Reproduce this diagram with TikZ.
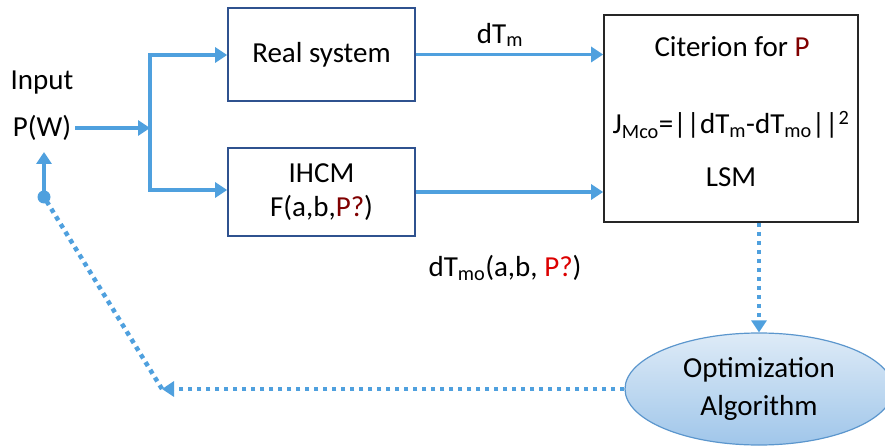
\documentclass[tikz,border=0pt]{standalone}
\usepackage{fontspec}
\setmainfont{Carlito}
\usetikzlibrary{arrows.meta,shapes.geometric}
\definecolor{lineblue}{RGB}{79,160,222}
\definecolor{boxblue}{RGB}{47,82,143}
\definecolor{ellborder}{RGB}{91,150,205}
\definecolor{elltop}{RGB}{222,235,247}
\definecolor{ellbot}{RGB}{160,198,234}
\definecolor{darkred}{RGB}{128,0,0}
\definecolor{brightred}{RGB}{220,0,0}
\begin{document}
\begin{tikzpicture}[x=1pt,y=-1pt,
  every node/.style={font=\fontsize{29}{35}\selectfont, inner sep=0pt},
  blkbox/.style={draw=boxblue, line width=1.6pt, minimum width=187pt, fill=white},
  flow/.style={draw=lineblue, line width=3.6pt, -{Triangle[length=12pt,width=15pt]}},
  dotflow/.style={draw=lineblue, line width=4.5pt, dash pattern=on 4.5pt off 4.5pt},
  dotarrow/.style={dotflow, -{Triangle[length=12pt,width=15pt]}}
]
\useasboundingbox (0,0) rectangle (885,446);

% nodes
\node (inlabel) at (42,83) {Input};
\node (pw) at (42,128) {P(W)};
\node[blkbox, minimum height=93pt] (rs) at (321.5,54.5) {Real system};
\node[blkbox, minimum height=88pt, align=center] (ihcm) at (321.5,192)
  {IHCM\\[-1pt]F(a,b,\textcolor{darkred}{P?})};
\node[draw=black!85, line width=1.6pt, minimum width=254pt, minimum height=207pt] (crit) at (731,118.5) {};
\node (crit1) at (732,47) {Citerion for \textcolor{darkred}{P}};
\node (crit2) at (731,125) {J\textsubscript{Mco}=||dT\textsubscript{m}-dT\textsubscript{mo}||\textsuperscript{2}};
\node (crit3) at (731,177) {LSM};
\node[ellipse, draw=ellborder, line width=1.2pt, top color=elltop, bottom color=ellbot,
      minimum width=268pt, minimum height=112pt, align=center] (opt) at (759,389)
  {Optimization\\[3pt]Algorithm};
\node (dtm) at (500,35) {dT\textsubscript{m}};
\node (dtmo) at (505,268) {dT\textsubscript{mo}(a,b, \textcolor{brightred}{P?})};

% coordinates
\coordinate (j) at (150,128);
\coordinate (jt) at (150,55);
\coordinate (jb) at (150,190);
\coordinate (fb) at (162,389);
\coordinate (dt) at (44,197);
\coordinate (pwb) at (44,152);

% connectors
\draw[flow] (pw.east) ++(4,0) -- (j);
\draw[draw=lineblue, line width=3.6pt, line cap=rect] (jt) -- (jb);
\draw[flow] (jt) -- (jt -| rs.west);
\draw[flow] (jb) -- (jb -| ihcm.west);
\draw[flow] (rs.east) -- (rs.east -| crit.west);
\draw[flow] (ihcm.east) -- (ihcm.east -| crit.west);
\draw[dotarrow] (crit.south -| opt.north) -- (opt.north);
\draw[dotarrow] (opt.west) -- (fb);
\draw[dotflow] (fb) -- (dt);
\draw[flow] (dt) -- (pwb);
\fill[lineblue] (dt) circle (6.5pt);
\end{tikzpicture}
\end{document}
